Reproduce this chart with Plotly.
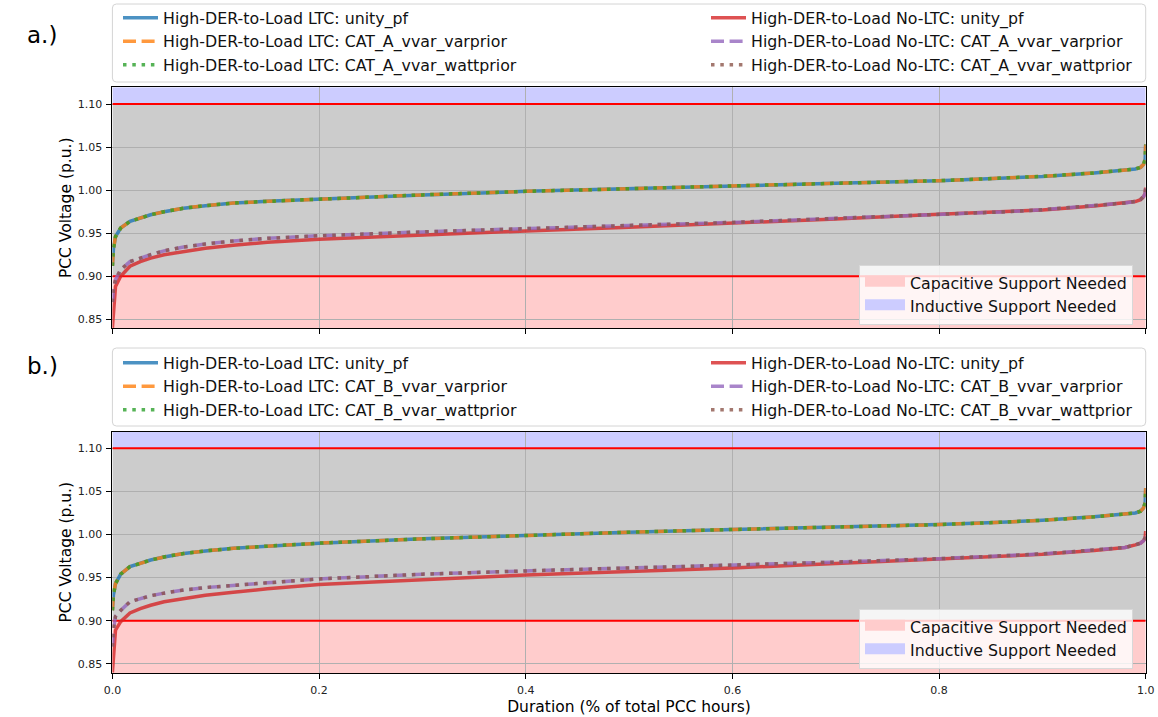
import plotly.graph_objects as go

W, H = 1158, 717

# ---------------- data ----------------
duration = [0, 0.001, 0.003, 0.008, 0.017, 0.027, 0.037, 0.05, 0.069, 0.09, 0.117, 0.15,
            0.2, 0.3, 0.4, 0.5, 0.6, 0.7, 0.8, 0.86, 0.9, 0.95, 0.98, 0.99, 0.995, 0.998,
            0.9995, 1.0]

# panel a.)
a_ltc_unity = [0.912, 0.932, 0.946, 0.956, 0.9637, 0.968, 0.9714, 0.975, 0.979, 0.982, 0.985, 0.987,
               0.9897, 0.9945, 0.9986, 1.002, 1.0052, 1.008, 1.011, 1.0137, 1.016, 1.020, 1.0232,
               1.0246, 1.0265, 1.030, 1.036, 1.053]
a_ltc_varprior = [0.912, 0.932, 0.946, 0.956, 0.9637, 0.968, 0.9714, 0.975, 0.979, 0.982, 0.985, 0.987,
                  0.9897, 0.9945, 0.9986, 1.002, 1.0052, 1.008, 1.011, 1.0137, 1.016, 1.020, 1.0232,
                  1.0246, 1.0265, 1.030, 1.036, 1.053]
a_ltc_wattprior = [0.912, 0.932, 0.946, 0.956, 0.9637, 0.968, 0.9714, 0.975, 0.979, 0.982, 0.985, 0.987,
                   0.9897, 0.9945, 0.9986, 1.002, 1.0052, 1.008, 1.011, 1.0137, 1.016, 1.020, 1.0232,
                   1.0246, 1.0265, 1.030, 1.036, 1.053]
a_noltc_unity = [0.840, 0.862, 0.888, 0.900, 0.9116, 0.917, 0.921, 0.925, 0.929, 0.9325, 0.936, 0.9395,
                 0.943, 0.948, 0.9526, 0.957, 0.9615, 0.9665, 0.972, 0.9745, 0.977, 0.9815, 0.985,
                 0.9868, 0.989, 0.9925, 0.996, 1.003]
a_noltc_varprior = [0.870, 0.885, 0.896, 0.9077, 0.917, 0.9215, 0.925, 0.9295, 0.934, 0.9375, 0.941, 0.944,
                    0.947, 0.9515, 0.9557, 0.959, 0.9625, 0.967, 0.9722, 0.9747, 0.9772, 0.9817, 0.9852,
                    0.987, 0.9892, 0.9927, 0.9962, 1.003]
a_noltc_wattprior = [0.870, 0.885, 0.896, 0.9077, 0.917, 0.9215, 0.925, 0.9295, 0.934, 0.9375, 0.941, 0.944,
                     0.947, 0.9515, 0.9557, 0.959, 0.9625, 0.967, 0.9722, 0.9747, 0.9772, 0.9817, 0.9852,
                     0.987, 0.9892, 0.9927, 0.9962, 1.003]

# panel b.)
b_ltc_unity = [0.912, 0.930, 0.943, 0.954, 0.9627, 0.967, 0.9704, 0.974, 0.978, 0.981, 0.984, 0.9865,
               0.990, 0.995, 0.9993, 1.0027, 1.0058, 1.0085, 1.0115, 1.0143, 1.0165, 1.0205, 1.0235,
               1.025, 1.027, 1.031, 1.037, 1.054]
b_ltc_varprior = [0.912, 0.930, 0.943, 0.954, 0.9627, 0.967, 0.9704, 0.974, 0.978, 0.981, 0.984, 0.9865,
                  0.990, 0.995, 0.9993, 1.0027, 1.0058, 1.0085, 1.0115, 1.0143, 1.0165, 1.0205, 1.0235,
                  1.025, 1.027, 1.031, 1.037, 1.054]
b_ltc_wattprior = [0.912, 0.930, 0.943, 0.954, 0.9627, 0.967, 0.9704, 0.974, 0.978, 0.981, 0.984, 0.9865,
                   0.990, 0.995, 0.9993, 1.0027, 1.0058, 1.0085, 1.0115, 1.0143, 1.0165, 1.0205, 1.0235,
                   1.025, 1.027, 1.031, 1.037, 1.054]
b_noltc_unity = [0.840, 0.860, 0.889, 0.899, 0.909, 0.914, 0.918, 0.922, 0.926, 0.9295, 0.933, 0.937,
                 0.942, 0.948, 0.953, 0.957, 0.9612, 0.9665, 0.9715, 0.9748, 0.977, 0.9815, 0.985,
                 0.988, 0.990, 0.993, 0.996, 1.004]
b_noltc_varprior = [0.870, 0.890, 0.905, 0.912, 0.922, 0.926, 0.929, 0.932, 0.9356, 0.9385, 0.9414, 0.944,
                    0.9485, 0.954, 0.9578, 0.961, 0.9645, 0.968, 0.972, 0.975, 0.9775, 0.982, 0.985,
                    0.988, 0.990, 0.993, 0.996, 1.004]
b_noltc_wattprior = [0.870, 0.890, 0.905, 0.912, 0.922, 0.926, 0.929, 0.932, 0.9356, 0.9385, 0.9414, 0.944,
                     0.9485, 0.954, 0.9578, 0.961, 0.9645, 0.968, 0.972, 0.975, 0.9775, 0.982, 0.985,
                     0.988, 0.990, 0.993, 0.996, 1.004]

a_names = ["High-DER-to-Load LTC: unity_pf",
           "High-DER-to-Load LTC: CAT_A_vvar_varprior",
           "High-DER-to-Load LTC: CAT_A_vvar_wattprior",
           "High-DER-to-Load No-LTC: unity_pf",
           "High-DER-to-Load No-LTC: CAT_A_vvar_varprior",
           "High-DER-to-Load No-LTC: CAT_A_vvar_wattprior"]
b_names = ["High-DER-to-Load LTC: unity_pf",
           "High-DER-to-Load LTC: CAT_B_vvar_varprior",
           "High-DER-to-Load LTC: CAT_B_vvar_wattprior",
           "High-DER-to-Load No-LTC: unity_pf",
           "High-DER-to-Load No-LTC: CAT_B_vvar_varprior",
           "High-DER-to-Load No-LTC: CAT_B_vvar_wattprior"]

low_limit = 0.90
high_limit = 1.10
y_range = [0.8395, 1.1195]
x_range = [0.0, 1.0]
y_ticks = [0.85, 0.90, 0.95, 1.00, 1.05, 1.10]
x_ticks = [0.0, 0.2, 0.4, 0.6, 0.8, 1.0]
fill_names = ["Capacitive Support Needed", "Inductive Support Needed"]

# ---------------- styling ----------------
FONT = "DejaVu Sans"
colors = ["#1f77b4", "#ff7f0e", "#2ca02c", "#d62728", "#9467bd", "#8c564b"]
LW = 3.5
dashes = ["solid", "13px,5.6px", "3.5px,5.8px", "solid", "13px,5.6px", "3.5px,5.8px"]
RED_FILL = "#ffcccc"
BLUE_FILL = "#ccccff"
GRAY_FILL = "#cccccc"

fig = go.Figure()

panels = [
    dict(xa="x", ya="y", series=[a_ltc_unity, a_ltc_varprior, a_ltc_wattprior,
                                 a_noltc_unity, a_noltc_varprior, a_noltc_wattprior],
         names=a_names, legs=("legend", "legend2", "legend3")),
    dict(xa="x2", ya="y2", series=[b_ltc_unity, b_ltc_varprior, b_ltc_wattprior,
                                   b_noltc_unity, b_noltc_varprior, b_noltc_wattprior],
         names=b_names, legs=("legend4", "legend5", "legend6")),
]

shapes = []
for p in panels:
    xa, ya = p["xa"], p["ya"]
    # background regions
    for y0, y1, c in [(y_range[0], low_limit, RED_FILL), (low_limit, high_limit, GRAY_FILL),
                      (high_limit, y_range[1], BLUE_FILL)]:
        shapes.append(dict(type="rect", xref=xa, yref=ya, x0=x_range[0], x1=x_range[1],
                           y0=y0, y1=y1, fillcolor=c, line=dict(width=0), layer="below"))
    # threshold lines
    for lim in (high_limit, low_limit):
        fig.add_trace(go.Scatter(x=x_range, y=[lim, lim], mode="lines", xaxis=xa, yaxis=ya,
                                 line=dict(color="red", width=2), showlegend=False,
                                 hoverinfo="skip"))
    # series
    for i, (vals, name) in enumerate(zip(p["series"], p["names"])):
        fig.add_trace(go.Scatter(x=duration, y=vals, mode="lines", name=name,
                                 xaxis=xa, yaxis=ya, opacity=0.8,
                                 line=dict(color=colors[i], width=LW, dash=dashes[i]),
                                 legend=p["legs"][0] if i < 3 else p["legs"][1]))
    # fill legend entries
    for name, c in zip(fill_names, [RED_FILL, BLUE_FILL]):
        fig.add_trace(go.Scatter(x=[None], y=[None], mode="lines", name=name, fill="toself",
                                 fillcolor=c, line=dict(color=c, width=10),
                                 xaxis=xa, yaxis=ya, legend=p["legs"][2]))


def rounded_box(x0, y0, x1, y1, r=4):
    """Rounded rectangle path in paper coordinates from pixel corners."""
    def X(v):
        return v / W

    def Y(v):
        return 1 - v / H
    return (f"M {X(x0 + r)},{Y(y0)} L {X(x1 - r)},{Y(y0)} Q {X(x1)},{Y(y0)} {X(x1)},{Y(y0 + r)} "
            f"L {X(x1)},{Y(y1 - r)} Q {X(x1)},{Y(y1)} {X(x1 - r)},{Y(y1)} "
            f"L {X(x0 + r)},{Y(y1)} Q {X(x0)},{Y(y1)} {X(x0)},{Y(y1 - r)} "
            f"L {X(x0)},{Y(y0 + r)} Q {X(x0)},{Y(y0)} {X(x0 + r)},{Y(y0)} Z")


# legend boxes for the series legends
for top, bot in [(4, 82), (348, 426)]:
    shapes.append(dict(type="path", xref="paper", yref="paper",
                       path=rounded_box(112.4, top, 1145.7, bot),
                       fillcolor="white", line=dict(color="#d4d4d4", width=1), layer="above"))

xdom = [112.4 / W, 1145.7 / W]
axis_common = dict(showline=True, mirror=True, linecolor="black", linewidth=1,
                   ticks="outside", ticklen=5, tickcolor="black", tickwidth=1,
                   showgrid=True, gridcolor="#b0b0b0", gridwidth=1, zeroline=False,
                   automargin=False, ticklabelstandoff=2,
                   tickfont=dict(family=FONT, size=11, color="#222222"))

leg_common = dict(font=dict(family=FONT, size=15.8, color="#111111"), xanchor="left",
                  yanchor="top", bgcolor="rgba(0,0,0,0)", borderwidth=0, itemwidth=35,
                  tracegroupgap=0)
fill_leg = dict(font=dict(family=FONT, size=15.8, color="#111111"), xanchor="left",
                yanchor="top", bgcolor="rgba(255,255,255,0.8)", bordercolor="#d8d8d8",
                borderwidth=1, itemwidth=40, tracegroupgap=0)

fig.update_layout(
    width=W, height=H, margin=dict(l=0, r=0, t=0, b=0, autoexpand=False),
    paper_bgcolor="white", plot_bgcolor="white",
    font=dict(family=FONT, color="black"),
    shapes=shapes,
    xaxis=dict(domain=xdom, anchor="y", range=x_range, tickvals=x_ticks,
               showticklabels=False, **axis_common),
    yaxis=dict(domain=[1 - 328.3 / H, 1 - 87.3 / H], anchor="x", range=y_range,
               tickvals=y_ticks, tickformat=".2f",
               title=dict(text="PCC Voltage (p.u.)", font=dict(family=FONT, size=15.5),
                          standoff=2), **axis_common),
    xaxis2=dict(domain=xdom, anchor="y2", range=x_range, tickvals=x_ticks, tickformat=".1f",
                title=dict(text="Duration (% of total PCC hours)",
                           font=dict(family=FONT, size=15.5), standoff=5),
                **axis_common),
    yaxis2=dict(domain=[1 - 672.9 / H, 1 - 431.5 / H], anchor="x2", range=y_range,
                tickvals=y_ticks, tickformat=".2f",
                title=dict(text="PCC Voltage (p.u.)", font=dict(family=FONT, size=15.5),
                           standoff=2), **axis_common),
    legend=dict(x=118 / W, y=1 - 1 / H, **leg_common),
    legend2=dict(x=706 / W, y=1 - 1 / H, **leg_common),
    legend3=dict(x=859 / W, y=1 - 265 / H, **fill_leg),
    legend4=dict(x=118 / W, y=1 - 346 / H, **leg_common),
    legend5=dict(x=706 / W, y=1 - 346 / H, **leg_common),
    legend6=dict(x=859 / W, y=1 - 609 / H, **fill_leg),
    annotations=[
        dict(text="a.)", x=25 / W, y=1 - 20 / H, xref="paper", yref="paper",
             showarrow=False, font=dict(family=FONT, size=23, color="black")),
        dict(text="b.)", x=25 / W, y=1 - 366 / H, xref="paper", yref="paper",
             showarrow=False, font=dict(family=FONT, size=23, color="black")),
    ],
)

fig.write_html("out.html")
